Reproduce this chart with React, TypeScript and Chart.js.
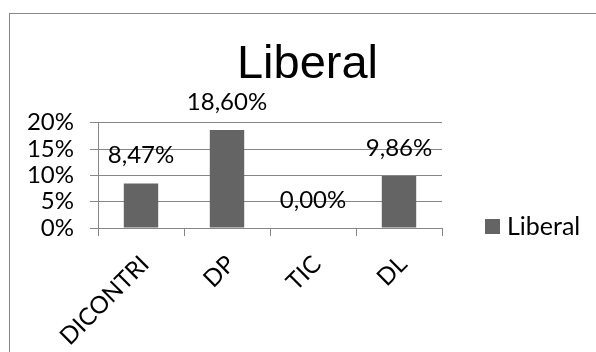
import React, { useEffect, useRef } from 'react';
import { Chart, registerables } from 'chart.js';

Chart.register(...registerables);

const titleText = 'Liberal';
const seriesName = 'Liberal';
const categories = ['DICONTRI', 'DP', 'TIC', 'DL'];
const values = [8.47, 18.6, 0.0, 9.86];
const yMin = 0;
const yMax = 20;
const yStep = 5;

const barColor = '#646464';
const gridColor = '#878787';
const labelFont = 'Lato';

export default function App() {
  const ref = useRef<HTMLCanvasElement>(null);

  useEffect(() => {
    const canvas = ref.current;
    if (!canvas) return;

    const deco = {
      id: 'deco',
      beforeDraw(chart: any) {
        const c = chart.ctx;
        c.save();
        c.fillStyle = '#ffffff';
        c.fillRect(0, 0, chart.width, chart.height);
        c.strokeStyle = '#888888';
        c.lineWidth = 1;
        c.strokeRect(9.5, 13.5, 800, 600);
        c.restore();
      },
      afterDraw(chart: any) {
        const c = chart.ctx;
        const area = chart.chartArea;
        c.save();
        c.fillStyle = '#000000';
        c.textBaseline = 'alphabetic';
        c.textAlign = 'center';
        c.font = '47px "Liberation Sans"';
        c.fillText(titleText, 307.5, 77.5);

        c.font = `24px ${labelFont}`;
        const meta = chart.getDatasetMeta(0);
        meta.data.forEach((bar: any, i: number) => {
          const txt = values[i].toFixed(2).replace('.', ',') + '%';
          c.fillText(txt, bar.x, bar.y - 20);
        });

        // legend
        const lx = area.right + 43;
        const ly = area.bottom - 9;
        c.fillStyle = barColor;
        c.fillRect(lx, ly, 15, 15);
        c.fillStyle = '#000000';
        c.textAlign = 'left';
        c.font = `25px ${labelFont}`;
        c.fillText(seriesName, lx + 22, ly + 15.5);
        c.restore();
      },
    };

    const chart = new Chart(canvas, {
      type: 'bar',
      data: {
        labels: categories,
        datasets: [
          {
            label: seriesName,
            data: values,
            backgroundColor: barColor,
            barPercentage: 0.8,
            categoryPercentage: 0.5,
          },
        ],
      },
      options: {
        responsive: false,
        animation: false,
        devicePixelRatio: 1,
        layout: {
          autoPadding: false,
          padding: { left: 0, top: 122.7, right: 154, bottom: 0 },
        },
        plugins: {
          legend: { display: false },
          title: { display: false },
          tooltip: { enabled: false },
        },
        scales: {
          x: {
            grid: {
              drawOnChartArea: false,
              drawTicks: true,
              tickLength: 8,
              color: gridColor,
              offset: true,
            },
            border: { color: gridColor },
            ticks: {
              color: '#000000',
              font: { family: labelFont, size: 24 },
              maxRotation: 45,
              minRotation: 45,
              autoSkip: false,
              padding: 14,
              labelOffset: 4,
            },
            afterFit(scale: any) {
              scale.height = 124;
            },
          },
          y: {
            min: yMin,
            max: yMax,
            grid: { color: gridColor, tickLength: 8 },
            border: { color: gridColor },
            ticks: {
              stepSize: yStep,
              autoSkip: false,
              color: '#000000',
              font: { family: labelFont, size: 24 },
              padding: 16,
              callback: (v: any) => v + '%',
            },
            afterFit(scale: any) {
              scale.width = 98;
            },
          },
        },
      },
      plugins: [deco],
    });

    return () => chart.destroy();
  }, []);

  return (
    <div style={{ position: 'absolute', left: 0, top: 0, width: 596, height: 352 }}>
      <canvas ref={ref} width={596} height={352} style={{ display: 'block', width: 596, height: 352 }} />
    </div>
  );
}
